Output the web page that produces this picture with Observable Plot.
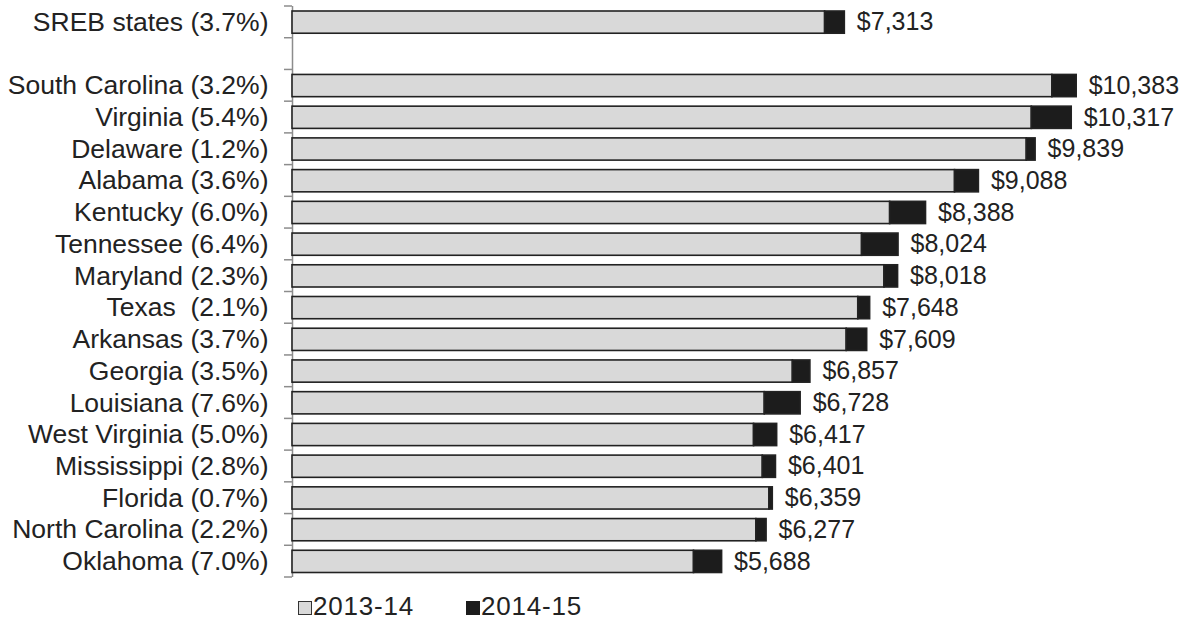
<!DOCTYPE html>
<html>
<head>
<meta charset="utf-8">
<script src="https://cdn.jsdelivr.net/npm/d3@7"></script>
<script src="https://cdn.jsdelivr.net/npm/@observablehq/plot@0.6"></script>
<style>
  html, body { margin: 0; padding: 0; background: #fff; }
  #wrap { position: relative; width: 1197px; height: 621px; font-family: "Liberation Sans", Arial, sans-serif; color: #222; }
  #chart svg { display: block; }
  #wrap svg text { white-space: pre; }
  #legend { position: absolute; top: 592px; left: 0; width: 1197px; height: 29px; font-size: 26px; letter-spacing: 0.8px; }
  .item { position: absolute; top: 0; line-height: 28px; white-space: nowrap; }
  .sw { display: inline-block; width: 12px; height: 12px; margin-right: 1px; vertical-align: 0px; box-sizing: content-box; }
</style>
</head>
<body>
<div id="wrap"><div id="chart"></div><div id="legend"></div></div>
<script>
// ---- data ----
const states = ["SREB states", "South Carolina", "Virginia", "Delaware", "Alabama", "Kentucky", "Tennessee", "Maryland", "Texas ", "Arkansas", "Georgia", "Louisiana", "West Virginia", "Mississippi", "Florida", "North Carolina", "Oklahoma"];
const pctChange = ["3.7%", "3.2%", "5.4%", "1.2%", "3.6%", "6.0%", "6.4%", "2.3%", "2.1%", "3.7%", "3.5%", "7.6%", "5.0%", "2.8%", "0.7%", "2.2%", "7.0%"];
const spend1415 = [7313, 10383, 10317, 9839, 9088, 8388, 8024, 8018, 7648, 7609, 6857, 6728, 6417, 6401, 6359, 6277, 5688];
const spend1314 = [7052, 10061, 9789, 9722, 8772, 7913, 7541, 7838, 7491, 7338, 6625, 6253, 6111, 6227, 6315, 6142, 5316];
const seriesNames = ["2013-14", "2014-15"];
const gapKey = " ";

const rows = states.map((s, i) => ({label: `${s} (${pctChange[i]})`, prev: spend1314[i], curr: spend1415[i]}));
const domain = [rows[0].label, gapKey, ...rows.slice(1).map(r => r.label)];
const fmt = d3.format(",");

const chart = Plot.plot({
  width: 1197,
  height: 585,
  marginTop: 6,
  marginBottom: 8,
  marginLeft: 292,
  marginRight: 10,
  style: {fontFamily: "'Liberation Sans', Arial, sans-serif", fontSize: "26px", color: "#222", background: "#fff"},
  x: {domain: [0, 11850], axis: null},
  y: {domain, padding: 0, round: false, axis: null},
  marks: [
    Plot.axisY({tickSize: 0, tickPadding: 24, fontSize: 26.5, label: null, tickFormat: d => d}),
    Plot.ruleX([0], {stroke: "#8c8c8c", strokeWidth: 1.5}),
    Plot.barX(rows, {y: "label", x1: 0, x2: "prev", fill: "#d9d9d9", stroke: "#222", strokeWidth: 1.6, insetTop: 5, insetBottom: 4.5}),
    Plot.barX(rows, {y: "label", x1: "prev", x2: "curr", fill: "#1c1c1c", stroke: "#222", strokeWidth: 1.6, insetTop: 5, insetBottom: 4.5}),
    Plot.text(rows, {y: "label", x: "curr", text: d => "$" + fmt(d.curr), textAnchor: "start", dx: 12, fontSize: 25, fill: "#222"})
  ]
});
document.getElementById("chart").appendChild(chart);

// boundary tick marks on the category axis
const ys = chart.scale("y");
const x0 = chart.scale("x").apply(0);
const bounds = domain.map(d => ys.apply(d)).concat([ys.apply(domain[domain.length - 1]) + ys.bandwidth]);
d3.select(chart).append("g")
  .selectAll("line").data(bounds).join("line")
  .attr("x1", x0 - 8).attr("x2", x0).attr("y1", d => d).attr("y2", d => d)
  .attr("stroke", "#8c8c8c").attr("stroke-width", 1.5);

// legend
const legendColors = [["#d9d9d9", "#333"], ["#1c1c1c", "#1c1c1c"]];
const legendLeft = [298, 466];
const lg = d3.select("#legend");
seriesNames.forEach((name, i) => {
  const it = lg.append("div").attr("class", "item").style("left", legendLeft[i] + "px");
  it.append("span").attr("class", "sw")
    .style("background", legendColors[i][0])
    .style("border", `1.5px solid ${legendColors[i][1]}`);
  it.append("span").text(name);
});
</script>
</body>
</html>
